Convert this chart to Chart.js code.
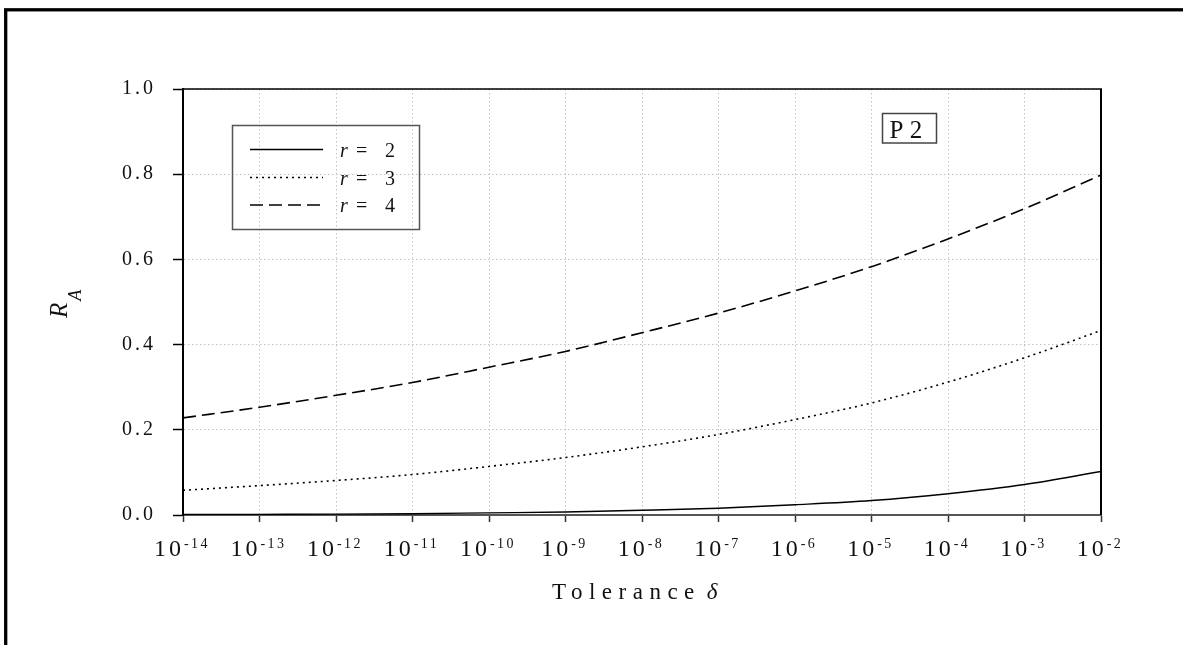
<!DOCTYPE html>
<html>
<head>
<meta charset="utf-8">
<script src="https://cdn.jsdelivr.net/npm/chart.js@4.4.0/dist/chart.umd.min.js"></script>
<style>
  html, body { margin: 0; padding: 0; background: #fff; }
  #wrap { width: 1183px; height: 645px; position: relative; }
</style>
</head>
<body>
<div id="wrap"><canvas id="ra-chart"></canvas></div>
<script>
// tolerance delta, one point per decade
const tolerance = [1e-14, 1e-13, 1e-12, 1e-11, 1e-10, 1e-9, 1e-8, 1e-7, 1e-6, 1e-5, 1e-4, 1e-3, 1e-2];
const tickExponents = [-14, -13, -12, -11, -10, -9, -8, -7, -6, -5, -4, -3, -2];
const yTicks = [0, 0.2, 0.4, 0.6, 0.8, 1.0];
const seriesLabels = ['2', '3', '4'];

// R_A
const rTwo = [0.001, 0.0015, 0.002, 0.003, 0.005, 0.007, 0.011, 0.016, 0.024, 0.034, 0.050, 0.0715, 0.102];
const rThree = [0.058, 0.069, 0.081, 0.095, 0.114, 0.135, 0.160, 0.189, 0.224, 0.263, 0.312, 0.369, 0.433];
const rFour = [0.228, 0.253, 0.281, 0.311, 0.347, 0.384, 0.428, 0.474, 0.526, 0.583, 0.648, 0.719, 0.798];

const serif = '"Liberation Serif", "Times New Roman", serif';

const toPoints = (ys) => tolerance.map((x, i) => ({ x: x, y: ys[i] }));

const data = {
  datasets: [
    { label: 'r = 2', data: toPoints(rTwo), borderColor: '#000', borderWidth: 1.4, borderDash: [] },
    { label: 'r = 3', data: toPoints(rThree), borderColor: '#000', borderWidth: 1.6, borderDash: [2, 4] },
    { label: 'r = 4', data: toPoints(rFour), borderColor: '#000', borderWidth: 1.6, borderDash: [13, 6] },
  ]
};

const decorations = {
  id: 'decorations',
  beforeDraw(chart) {
    chart.ctx.letterSpacing = '3px';   // spaced y tick labels like the original
  },
  afterDraw(chart) {
    const ctx = chart.ctx;
    const { left, right, top, bottom } = chart.chartArea;
    const xScale = chart.scales.x;
    ctx.save();
    ctx.setLineDash([]);
    ctx.strokeStyle = '#000';

    // top and right edges of the plot box
    ctx.lineWidth = 1.5;
    ctx.beginPath(); ctx.moveTo(left, top); ctx.lineTo(right + 1, top); ctx.stroke();
    ctx.lineWidth = 2;
    ctx.beginPath(); ctx.moveTo(right, top); ctx.lineTo(right, bottom); ctx.stroke();

    // outer frame
    ctx.lineWidth = 3.3;
    ctx.strokeRect(5.7, 9.8, 1400, 1000);

    // x tick labels 10^n
    ctx.fillStyle = '#111';
    ctx.textBaseline = 'alphabetic';
    ctx.textAlign = 'left';
    xScale.ticks.forEach((t, i) => {
      const px = xScale.getPixelForValue(t.value);
      const base = '10';
      const exp = String(tickExponents[i]);
      ctx.font = '24px ' + serif;
      ctx.letterSpacing = '3px';
      const wb = ctx.measureText(base).width;
      ctx.font = '14px ' + serif;
      ctx.letterSpacing = '2.5px';
      const we = ctx.measureText(exp).width;
      const start = px - (wb + we) / 2 - 1;
      ctx.font = '24px ' + serif;
      ctx.letterSpacing = '3px';
      ctx.fillText(base, start, 556);
      ctx.font = '14px ' + serif;
      ctx.letterSpacing = '2.5px';
      ctx.fillText(exp, start + wb, 548);
    });

    // x title
    ctx.font = '23px ' + serif;
    ctx.letterSpacing = '6.5px';
    ctx.fillText('Tolerance', 552, 599);
    const wt = ctx.measureText('Tolerance').width;
    ctx.letterSpacing = '0px';
    ctx.font = 'italic 23px ' + serif;
    ctx.fillText('\u03b4', 552 + wt + 6, 599);

    // y title R_A
    ctx.save();
    ctx.translate(67, 318);
    ctx.rotate(-Math.PI / 2);
    ctx.font = 'italic 25px ' + serif;
    ctx.fillText('R', 0, 0);
    const wr = ctx.measureText('R').width;
    ctx.font = 'italic 18px ' + serif;
    ctx.fillText('A', wr + 2, 14);
    ctx.restore();

    // legend box
    ctx.strokeStyle = '#555';
    ctx.lineWidth = 1.5;
    ctx.strokeRect(232.5, 125.5, 187, 104);
    const rows = [149.5, 177.5, 205];
    chart.data.datasets.forEach((ds, i) => {
      const y = rows[i];
      ctx.strokeStyle = ds.borderColor;
      ctx.lineWidth = ds.borderWidth;
      ctx.setLineDash(ds.borderDash);
      ctx.beginPath(); ctx.moveTo(250, y); ctx.lineTo(323, y); ctx.stroke();
      ctx.setLineDash([]);
      ctx.fillStyle = '#111';
      ctx.font = 'italic 20px ' + serif;
      ctx.fillText('r', 340, y + 7);
      ctx.font = '20px ' + serif;
      ctx.fillText('=', 356, y + 7);
      ctx.fillText(seriesLabels[i], 385, y + 7);
    });

    // panel tag
    ctx.strokeStyle = '#444';
    ctx.lineWidth = 1.5;
    ctx.strokeRect(882.5, 113.5, 54, 29.5);
    ctx.font = '25px ' + serif;
    ctx.fillStyle = '#111';
    ctx.fillText('P 2', 889.5, 137.5);

    ctx.restore();
    ctx.letterSpacing = '0px';
  }
};

const config = {
  type: 'line',
  data: data,
  options: {
    responsive: true,
    maintainAspectRatio: false,
    animation: false,
    layout: { padding: { top: 89, right: 82, bottom: 0, left: 0 } },
    elements: {
      point: { radius: 0 },
      line: { cubicInterpolationMode: 'monotone', borderCapStyle: 'butt' }
    },
    plugins: {
      legend: { display: false },
      tooltip: { enabled: false },
    },
    scales: {
      x: {
        type: 'logarithmic',
        min: 1e-14,
        max: 1e-2,
        afterBuildTicks: (s) => { s.ticks = tolerance.map(v => ({ value: v })); },
        afterFit: (s) => { s.height = 130; },
        ticks: { display: false },
        grid: { color: '#c2c2c2', lineWidth: 1, tickColor: '#333', tickLength: 7, tickWidth: 1.5 },
        border: { color: '#555', width: 2, dash: [1.5, 2.5] },
      },
      y: {
        min: 0,
        max: 1,
        afterBuildTicks: (s) => { s.ticks = yTicks.map(v => ({ value: v })); },
        afterFit: (s) => { s.width = 183; },
        ticks: {
          color: '#111',
          padding: 17,
          font: { family: serif, size: 20 },
          callback: (v) => Number(v).toFixed(1),
        },
        grid: { color: '#c2c2c2', lineWidth: 1, tickColor: '#000', tickLength: 10, tickWidth: 1.5 },
        border: { color: '#000', width: 2, dash: [1.5, 2.5] },
      }
    }
  },
  plugins: [decorations]
};

const raChart = new Chart(document.getElementById('ra-chart'), config);
</script>
</body>
</html>
